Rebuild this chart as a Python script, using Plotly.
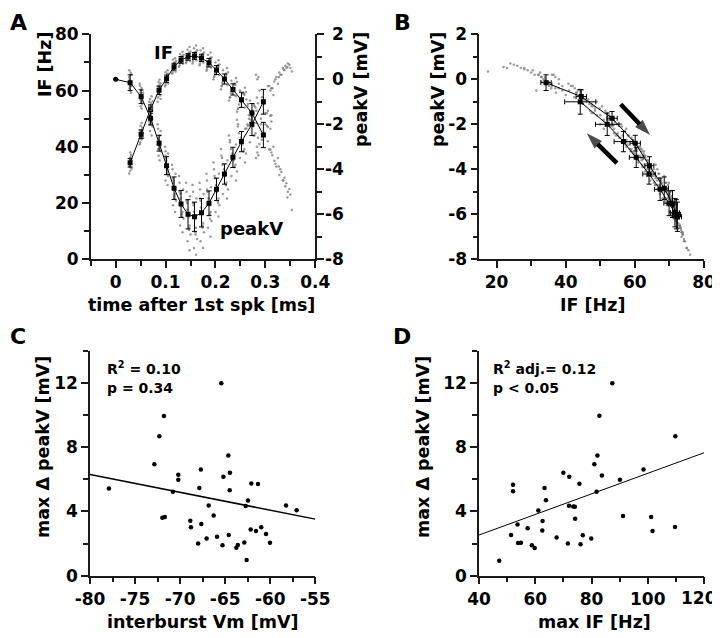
import plotly.graph_objects as go

# ---------------- Panel A / B : burst-averaged data ----------------
t_bins = [0.029, 0.051, 0.070, 0.087, 0.102, 0.117, 0.131, 0.145, 0.158,
          0.172, 0.187, 0.202, 0.218, 0.235, 0.252, 0.273, 0.296]
if_mean = [34.3, 44.5, 53.4, 60.1, 64.2, 68.5, 70.9, 72.0, 72.3,
           71.6, 69.9, 67.3, 64.1, 60.4, 56.7, 52.0, 44.2]
if_sd = [1.5, 1.5, 1.5, 1.5, 1.3, 1.2, 1.2, 1.2, 1.2,
         1.3, 1.5, 1.6, 1.8, 2.0, 2.7, 3.4, 4.5]
pv_t = [0.0, 0.029, 0.051, 0.070, 0.087, 0.102, 0.117, 0.131, 0.145, 0.158,
        0.172, 0.187, 0.202, 0.218, 0.235, 0.252, 0.273, 0.296]
pv_mean = [0.0, -0.15, -0.77, -1.73, -2.84, -3.84, -4.84, -5.54, -6.0, -6.11,
           -5.93, -5.51, -4.89, -4.21, -3.47, -2.77, -2.0, -1.0]
pv_sd = [0.0, 0.35, 0.3, 0.3, 0.35, 0.4, 0.5, 0.6, 0.65, 0.65,
         0.63, 0.55, 0.5, 0.45, 0.45, 0.45, 0.5, 0.55]

# individual spikes (time, IF, peakV), one row per spike number
cloud_t = [
    [.028, .030, .029, .031, .027, .029, .030, .028, .027, .031, .028, .030, .029, .032],
    [.050, .052, .049, .053, .051, .050, .052, .054, .048, .053, .051, .049, .055, .052],
    [.069, .071, .068, .072, .070, .069, .073, .070, .067, .074, .071, .068, .070, .072],
    [.086, .088, .085, .089, .087, .086, .090, .087, .084, .090, .087, .085, .089, .088],
    [.101, .103, .100, .104, .102, .100, .105, .102, .099, .105, .101, .103, .100, .104],
    [.116, .118, .114, .119, .117, .115, .120, .117, .113, .121, .116, .118, .115, .119],
    [.130, .133, .128, .134, .131, .129, .135, .132, .127, .136, .130, .133, .128, .134],
    [.143, .147, .142, .148, .145, .144, .149, .146, .141, .150, .144, .147, .142, .148],
    [.156, .160, .155, .161, .158, .157, .162, .159, .154, .163, .157, .160, .155, .161],
    [.170, .174, .169, .175, .172, .170, .176, .173, .168, .177, .171, .174, .169, .175],
    [.184, .189, .183, .190, .187, .185, .191, .188, .182, .192, .186, .189, .183, .190],
    [.199, .205, .197, .206, .202, .200, .207, .203, .196, .208, .201, .205, .198, .206],
    [.214, .221, .212, .222, .218, .215, .224, .219, .211, .225, .217, .221, .213, .223],
    [.231, .238, .229, .240, .235, .232, .241, .236, .227, .243, .234, .238, .229, .241],
    [.247, .256, .245, .258, .252, .249, .259, .254, .243, .261, .251, .256, .245, .259],
    [.267, .277, .264, .280, .273, .269, .282, .275, .262, .285, .271, .278, .265, .283],
    [.288, .300, .284, .305, .296, .291, .308, .298, .281, .312, .293, .303, .286, .310],
    [.312, .318, .322, .328, .335, .340, .345, .350, .316, .325, .332, .338, .353,
     .305, .310, .320, .330, .342, .348, .314, .327, .336, .344],
]
cloud_if = [
    [33.0, 36.5, 31.5, 35.2, 34.0, 38.0, 32.6, 35.8, 30.5, 37.2, 33.6, 34.8, 36.0, 32.2],
    [43.0, 46.0, 41.5, 45.2, 44.0, 47.5, 42.6, 44.8, 40.8, 46.8, 43.5, 45.8, 43.2, 48.5],
    [52.0, 55.5, 50.5, 54.2, 53.0, 57.0, 49.8, 53.8, 49.0, 56.2, 52.5, 54.8, 51.5, 58.0],
    [59.0, 62.0, 57.5, 61.2, 60.0, 63.0, 57.0, 60.5, 56.0, 62.6, 59.5, 61.5, 58.2, 63.8],
    [63.0, 65.8, 62.0, 65.0, 64.0, 66.5, 62.5, 64.5, 61.5, 66.0, 63.5, 65.5, 62.8, 67.2],
    [67.5, 70.0, 66.5, 69.5, 68.3, 71.0, 66.8, 68.8, 66.0, 70.5, 67.8, 69.8, 67.2, 71.5],
    [70.0, 72.3, 69.0, 71.8, 70.7, 73.0, 69.5, 71.2, 68.5, 72.7, 70.3, 72.0, 69.8, 73.8],
    [71.0, 73.4, 70.2, 73.0, 72.0, 74.5, 70.5, 72.4, 69.8, 73.9, 71.5, 73.3, 70.9, 75.5],
    [71.2, 73.8, 70.3, 73.2, 72.3, 75.0, 70.8, 72.6, 69.6, 74.2, 71.8, 73.6, 71.0, 76.0],
    [70.5, 73.0, 69.5, 72.6, 71.5, 74.2, 70.0, 72.0, 69.0, 73.5, 71.0, 72.9, 70.4, 75.0],
    [68.8, 71.5, 67.6, 71.0, 69.8, 72.6, 68.2, 70.3, 67.0, 71.8, 69.3, 71.2, 68.5, 73.5],
    [66.0, 69.0, 64.8, 68.5, 67.2, 70.0, 65.5, 67.8, 64.0, 69.3, 66.6, 68.7, 65.2, 70.8],
    [62.8, 66.0, 61.5, 65.5, 64.0, 67.2, 62.0, 64.7, 60.5, 66.5, 63.5, 65.8, 61.8, 68.0],
    [59.0, 62.5, 57.6, 62.0, 60.3, 63.5, 58.0, 61.0, 56.5, 63.0, 59.8, 62.2, 57.5, 64.5],
    [55.0, 59.0, 53.5, 58.5, 56.6, 60.0, 54.0, 57.2, 52.5, 59.5, 55.8, 58.8, 53.5, 61.0],
    [50.0, 55.0, 48.0, 54.0, 52.0, 56.5, 48.5, 52.8, 46.5, 55.5, 51.0, 54.5, 47.5, 57.5],
    [41.0, 48.0, 38.0, 47.0, 44.0, 50.0, 39.0, 45.0, 36.0, 49.0, 42.5, 47.5, 37.0, 51.0],
    [38, 35, 33, 30, 28, 26, 24, 23, 40, 36, 31, 29, 17.5,
     42, 39, 34, 32, 27, 25, 37, 33, 28, 22],
]
cloud_pv = [
    [-0.1, 0.2, -0.5, -0.3, 0.1, -0.2, 0.3, -0.4, 0.4, -0.6, 0.0, -0.1, -0.3, 0.2],
    [-0.6, -1.0, -0.3, -0.9, -0.7, -1.2, -0.4, -0.8, -0.2, -1.1, -0.5, -0.9, -0.6, -1.3],
    [-1.5, -2.0, -1.2, -1.9, -1.7, -2.3, -1.3, -1.8, -1.0, -2.1, -1.6, -2.0, -1.4, -2.5],
    [-2.6, -3.1, -2.2, -3.0, -2.8, -3.4, -2.3, -2.9, -2.0, -3.2, -2.7, -3.1, -2.5, -3.6],
    [-3.5, -4.2, -3.2, -4.1, -3.8, -4.5, -3.3, -3.9, -3.0, -4.3, -3.6, -4.0, -3.4, -4.7],
    [-4.5, -5.3, -4.0, -5.1, -4.8, -5.6, -4.2, -4.9, -3.8, -5.4, -4.6, -5.2, -4.4, -5.9],
    [-5.1, -6.1, -4.6, -5.9, -5.5, -6.5, -4.9, -5.6, -4.3, -6.2, -5.3, -6.0, -5.0, -6.8],
    [-5.5, -6.7, -5.0, -6.5, -6.0, -7.2, -5.2, -6.1, -4.6, -6.9, -5.8, -6.6, -5.4, -7.6],
    [-5.6, -6.9, -5.0, -6.6, -6.1, -7.5, -5.3, -6.2, -4.7, -7.1, -5.9, -6.8, -5.5, -7.8],
    [-5.4, -6.6, -4.9, -6.4, -5.9, -7.2, -5.1, -6.0, -4.6, -6.8, -5.7, -6.5, -5.3, -7.5],
    [-5.0, -6.2, -4.5, -5.9, -5.5, -6.6, -4.8, -5.6, -4.2, -6.3, -5.3, -6.0, -4.9, -7.0],
    [-4.4, -5.5, -4.0, -5.3, -4.9, -5.9, -4.2, -5.0, -3.7, -5.6, -4.7, -5.4, -4.3, -6.1],
    [-3.8, -4.7, -3.4, -4.6, -4.2, -5.1, -3.6, -4.3, -3.1, -4.9, -4.0, -4.7, -3.5, -5.3],
    [-3.1, -3.9, -2.7, -3.8, -3.5, -4.3, -2.9, -3.6, -2.5, -4.1, -3.3, -3.9, -2.8, -4.5],
    [-2.4, -3.2, -2.0, -3.1, -2.8, -3.5, -2.2, -2.9, -1.8, -3.3, -2.6, -3.2, -2.1, -3.7],
    [-1.6, -2.5, -1.2, -2.4, -2.0, -2.8, -1.4, -2.1, -0.9, -2.6, -1.8, -2.5, -1.1, -3.0],
    [-0.5, -1.5, 0.0, -1.4, -1.0, -2.0, -0.3, -1.1, 0.2, -1.6, -0.8, -1.5, 0.1, -2.2],
    [-0.4, -0.1, 0.1, 0.3, 0.5, 0.6, 0.7, 0.5, -0.7, -0.2, 0.2, 0.4, 0.35,
     -0.3, -0.5, 0.0, 0.2, 0.5, 0.65, -0.4, 0.1, 0.45, 0.55],
]

# arrows in panel B (IF, peakV): tail -> head
arrow_down_x = [55.9, 64.4]
arrow_down_y = [-1.11, -2.48]
arrow_up_x = [54.8, 46.1]
arrow_up_y = [-3.73, -2.40]

# ---------------- Panel C ----------------
c_vm = [-77.9, -72.86, -72.3, -71.8, -71.97, -71.7, -70.8, -70.2, -70.2, -68.87,
        -68.8, -68.0, -67.87, -67.7, -67.65, -67.06, -66.83, -66.28, -65.9, -65.43,
        -65.3, -65.2, -64.65, -64.6, -64.5, -64.47, -63.76, -63.6, -62.88, -62.73,
        -62.62, -62.47, -62.17, -62.1, -61.58, -61.36, -61.0, -60.47, -60.03, -58.25,
        -57.07]
c_dpv = [5.43, 6.94, 8.68, 9.93, 3.61, 3.65, 5.22, 6.28, 5.97, 3.42,
         3.01, 2.01, 5.45, 6.61, 3.21, 2.32, 4.37, 3.75, 2.42, 11.98,
         1.89, 6.16, 7.48, 2.53, 5.31, 6.40, 1.74, 1.91, 2.07, 4.33,
         0.97, 4.68, 2.88, 5.74, 2.78, 5.70, 3.01, 2.59, 2.05, 4.37,
         4.08]
c_fit_x = [-80, -55]
c_fit_y = [6.30, 3.52]

# ---------------- Panel D ----------------
d_if = [47.2, 51.4, 52.1, 52.1, 53.7, 53.9, 54.9, 57.3, 58.8, 59.8,
        61.1, 62.5, 62.6, 63.3, 63.8, 67.6, 70.0, 71.6, 72.1, 72.0,
        73.5, 74.1, 74.2, 75.7, 76.1, 76.9, 79.9, 81.0, 82.1, 81.8,
        82.8, 83.7, 87.4, 90.1, 91.2, 98.5, 101.2, 101.7, 109.7, 109.8]
d_dpv = [0.93, 2.53, 5.66, 5.26, 3.19, 2.03, 2.05, 2.96, 1.89, 1.72,
         4.06, 2.82, 3.40, 5.45, 4.70, 2.38, 6.40, 2.01, 6.16, 4.35,
         4.31, 4.29, 3.54, 5.72, 1.95, 2.51, 2.32, 6.94, 7.48, 5.22,
         9.95, 6.24, 11.98, 5.97, 3.71, 6.61, 3.65, 2.78, 3.03, 8.68]
d_fit_x = [40, 120]
d_fit_y = [2.53, 7.65]

# tick labels (plain hyphen minus, as in the original)
pv_tickvals = [-8, -6, -4, -2, 0, 2]
pv_ticktext = ["-8", "-6", "-4", "-2", "0", "2"]
vm_tickvals = [-80, -75, -70, -65, -60, -55]
vm_ticktext = ["-80", "-75", "-70", "-65", "-60", "-55"]
maxif_tickvals = [40, 60, 80, 100, 120]
maxif_ticktext = ["40", "60", "80", "100", "120"]

# ---------------- figure ----------------
# the figure sits 8 px inside the window; px()/py() map window pixels to paper.
OFF = 8
W, H = 720 - OFF, 638 - OFF
def px(x):
    return (x - OFF) / W
def py(y):
    return 1 - (y - OFF) / H

FONT = "DejaVu Sans, Liberation Sans, Arial, sans-serif"
INK = "#1a1a1a"
GREY = "rgba(120,120,120,0.75)"

flat = lambda L: [v for row in L for v in row]
ct, cif, cpv = flat(cloud_t), flat(cloud_if), flat(cloud_pv)

fig = go.Figure()

# Panel A clouds
fig.add_trace(go.Scatter(x=ct, y=cif, mode="markers", xaxis="x", yaxis="y",
                         marker=dict(size=2.5, color=GREY), hoverinfo="skip"))
fig.add_trace(go.Scatter(x=ct, y=cpv, mode="markers", xaxis="x", yaxis="y2",
                         marker=dict(size=2.5, color=GREY), hoverinfo="skip"))
# Panel A means
fig.add_trace(go.Scatter(x=t_bins, y=if_mean, mode="lines+markers", xaxis="x", yaxis="y",
                         line=dict(color="black", width=1),
                         marker=dict(size=5, symbol="square", color="black"),
                         error_y=dict(type="data", array=if_sd, thickness=1, width=2.5, color="black")))
fig.add_trace(go.Scatter(x=pv_t, y=pv_mean, mode="lines+markers", xaxis="x", yaxis="y2",
                         line=dict(color="black", width=1),
                         marker=dict(size=5, color="black",
                                     symbol=["circle"] + ["square"] * (len(pv_t) - 1)),
                         error_y=dict(type="data", array=pv_sd, thickness=1, width=2.5, color="black")))

# Panel B
fig.add_trace(go.Scatter(x=cif, y=cpv, mode="markers", xaxis="x2", yaxis="y3",
                         marker=dict(size=2.5, color=GREY), hoverinfo="skip"))
fig.add_trace(go.Scatter(x=if_mean, y=pv_mean[1:], mode="lines+markers", xaxis="x2", yaxis="y3",
                         line=dict(color="black", width=1),
                         marker=dict(size=5, symbol="square", color="black"),
                         error_x=dict(type="data", array=if_sd, thickness=1, width=2.5, color="black"),
                         error_y=dict(type="data", array=pv_sd[1:], thickness=1, width=2.5, color="black")))
for axx, axy in [(arrow_down_x, arrow_down_y), (arrow_up_x, arrow_up_y)]:
    fig.add_trace(go.Scatter(x=axx, y=axy, mode="lines+markers", xaxis="x2", yaxis="y3",
                             line=dict(color="black", width=4.5),
                             marker=dict(symbol="arrow", size=[0, 17], angleref="previous",
                                         color="black", line=dict(width=0))))

# Panel C
fig.add_trace(go.Scatter(x=c_vm, y=c_dpv, mode="markers", xaxis="x3", yaxis="y4",
                         marker=dict(size=4.5, color="black")))
fig.add_trace(go.Scatter(x=c_fit_x, y=c_fit_y, mode="lines", xaxis="x3", yaxis="y4",
                         line=dict(color="black", width=1.5)))
# Panel D
fig.add_trace(go.Scatter(x=d_if, y=d_dpv, mode="markers", xaxis="x4", yaxis="y5",
                         marker=dict(size=4.5, color="black")))
fig.add_trace(go.Scatter(x=d_fit_x, y=d_fit_y, mode="lines", xaxis="x4", yaxis="y5",
                         line=dict(color="black", width=1)))

def ax(domain, rng, dtick, minor, anchor, **kw):
    d = dict(domain=domain, range=rng, dtick=dtick, tick0=0, anchor=anchor, automargin=False,
             showgrid=False, zeroline=False, showline=True, linecolor=INK, linewidth=1.5,
             ticks="outside", ticklen=7, tickwidth=1.5, tickcolor=INK,
             minor=dict(dtick=minor, tick0=0, ticks="outside", ticklen=5, tickwidth=1.5, tickcolor=INK),
             tickfont=dict(size=17, color="black", family=FONT, weight="bold"))
    d.update(kw)
    return d

xA = [px(90.7), px(315.3)]
xB = [px(479.3), px(704)]
xC = [px(90), px(315.3)]
xD = [px(479), px(704)]
yTop = [py(259.3), py(34.3)]
yBot = [py(575.7), py(350.7)]

# last label of panel D's x axis is placed separately (it sits at the window edge)
d_ticktext_axis = maxif_ticktext[:-1] + [""]

fig.update_layout(
    width=W, height=H, margin=dict(l=0, r=0, t=0, b=0, pad=0),
    paper_bgcolor="white", plot_bgcolor="white", showlegend=False,
    font=dict(family=FONT, size=17, color="black", weight="bold"),
    xaxis=ax(xA, [-0.05, 0.4], 0.1, 0.05, "y"),
    yaxis=ax(yTop, [0, 80], 20, 10, "x"),
    yaxis2=ax(yTop, [-8, 2], 2, 1, "x", overlaying="y", side="right", showticklabels=False),
    xaxis2=ax(xB, [15, 80], 20, 10, "y3"),
    yaxis3=ax(yTop, [-8, 2], 2, 1, "x2", tickmode="array",
              tickvals=pv_tickvals, ticktext=pv_ticktext),
    xaxis3=ax(xC, [-80, -55], 5, 2.5, "y4", tickmode="array",
              tickvals=vm_tickvals, ticktext=vm_ticktext),
    yaxis4=ax(yBot, [0, 14], 4, 2, "x3"),
    xaxis4=ax(xD, [40, 120], 20, 10, "y5", tickmode="array",
              tickvals=maxif_tickvals, ticktext=d_ticktext_axis),
    yaxis5=ax(yBot, [0, 14], 4, 2, "x4"),
)

ann = []
def label(text, x, y, size=17.5, angle=0, xanchor="center"):
    ann.append(dict(text=text, x=px(x), y=py(y), xref="paper", yref="paper",
                    showarrow=False, textangle=angle, xanchor=xanchor, yanchor="middle",
                    font=dict(size=size, family=FONT, color="black", weight="bold")))

# panel letters
label("A", 8, 22, size=22, xanchor="left")
label("B", 402, 22, size=22)
label("C", 8, 336, size=22, xanchor="left")
label("D", 402, 336, size=22)
# axis titles
label("IF [Hz]", 45, 65, angle=-90)
label("peakV [mV]", 361, 90, angle=-90)
label("time after 1st spk [ms]", 201, 305)
label("peakV [mV]", 438, 90, angle=-90)
label("IF [Hz]", 592, 305)
label("max \u0394 peakV [mV]", 43, 447, angle=-90)
label("interburst Vm [mV]", 202, 622)
label("max \u0394 peakV [mV]", 423, 447, angle=-90)
label("max IF [Hz]", 594, 622)
# curve labels
label("IF", 163.5, 53, size=18)
label("peakV", 251.5, 229, size=18)
# stats
label("R<sup>2</sup> = 0.10", 105, 368, size=14, xanchor="left")
label("p = 0.34", 105, 388, size=14, xanchor="left")
label("R<sup>2</sup> adj.= 0.12", 491, 368, size=14, xanchor="left")
label("p < 0.05", 491, 388, size=14, xanchor="left")
# last x tick label of panel D, right-aligned at the edge as in the original
label(maxif_ticktext[-1], 719, 598, size=17, xanchor="right")

# right-axis tick labels of panel A (right aligned as in the original)
for v, txt in zip(pv_tickvals, pv_ticktext):
    ann.append(dict(text=txt, x=px(346), y=v, xref="paper", yref="y2",
                    showarrow=False, xanchor="right", yanchor="middle",
                    font=dict(size=17, family=FONT, color="black", weight="bold")))

fig.update_layout(annotations=ann)
fig.write_html("out.html")
